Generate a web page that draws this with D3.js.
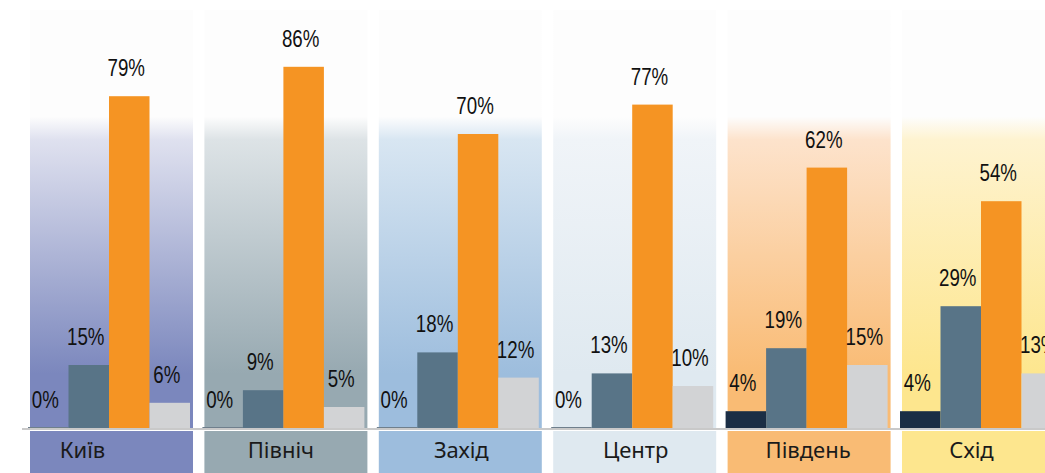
<!DOCTYPE html>
<html>
<head>
<meta charset="utf-8">
<script src="https://cdn.jsdelivr.net/npm/d3@7"></script>
<style>
  html, body { margin: 0; padding: 0; background: #ffffff; }
  svg { display: block; }
</style>
</head>
<body>
<svg id="chart" width="1045" height="473"></svg>
<script>
// ---- data ----
const categories = ["Київ", "Північ", "Захід", "Центр", "Південь", "Схід"];
const seriesKeys = ["s1", "s2", "s3", "s4"];
const s1 = [0, 0, 0, 0, 4, 4];
const s2 = [15, 9, 18, 13, 19, 29];
const s3 = [79, 86, 70, 77, 62, 54];
const s4 = [6, 5, 12, 10, 15, 13];

// ---- styles (kept apart from data) ----
const seriesColors = { s1: "#1b2e45", s2: "#587487", s3: "#f59423", s4: "#d2d3d5" };
const panelTop = ["#dfe1ef", "#dde3e6", "#d8e6f2", "#f0f4f8", "#fde3cc", "#fef3d0"];
const panelBottom = ["#7b87bd", "#97a9b1", "#9dbddd", "#dfe9f0", "#f9bb74", "#fde68e"];
const labelDx = [-29, -5, 1, 1, -1, -12];

const values = { s1, s2, s3, s4 };
const rows = categories.map((c, i) => ({ cat: c, i, vals: seriesKeys.map(k => ({ key: k, v: values[k][i] })) }));

const svg = d3.select("#chart");
const baseY = 428;

const x0 = d3.scaleBand().domain(categories).range([28, 1062]).paddingInner(12.4 / 174.4).paddingOuter(0);
const x1 = d3.scaleBand().domain(seriesKeys).range([0, x0.bandwidth()]).padding(0);
const y = d3.scaleLinear().domain([0, 100]).range([baseY, 8]);

// gradients
const defs = svg.append("defs");
categories.forEach((c, i) => {
  const g = defs.append("linearGradient").attr("id", "grad" + i)
    .attr("x1", 0).attr("y1", 0).attr("x2", 0).attr("y2", 1);
  g.append("stop").attr("offset", 0).attr("stop-color", "#fdfdfd");
  g.append("stop").attr("offset", 0.255).attr("stop-color", "#fdfdfd");
  g.append("stop").attr("offset", 0.31).attr("stop-color", panelTop[i]);
  g.append("stop").attr("offset", 0.87).attr("stop-color", panelBottom[i]);
  g.append("stop").attr("offset", 1).attr("stop-color", panelBottom[i]);
});

// panels
const panels = svg.append("g").selectAll("g").data(rows).join("g");
panels.append("rect")
  .attr("x", d => x0(d.cat) + 2)
  .attr("y", 10)
  .attr("width", x0.bandwidth() + 1)
  .attr("height", baseY - 10)
  .attr("fill", d => `url(#grad${d.i})`);
panels.append("rect")
  .attr("x", d => x0(d.cat) + 2)
  .attr("y", 431)
  .attr("width", x0.bandwidth() + 1)
  .attr("height", 473 - 431)
  .attr("fill", d => panelBottom[d.i]);

// axis baseline
svg.append("line")
  .attr("x1", 22).attr("x2", 1045)
  .attr("y1", baseY + 1).attr("y2", baseY + 1)
  .attr("stroke", "#c9c9c9").attr("stroke-width", 2);

// bars
const groups = svg.append("g").selectAll("g").data(rows).join("g")
  .attr("transform", d => `translate(${x0(d.cat)},0)`);

groups.selectAll("rect").data(d => d.vals).join("rect")
  .attr("x", d => x1(d.key))
  .attr("y", d => d.v === 0 ? baseY - 1 : y(d.v))
  .attr("width", x1.bandwidth())
  .attr("height", d => d.v === 0 ? 1 : baseY - y(d.v))
  .attr("fill", d => d.v === 0 ? "#6f7f8c" : seriesColors[d.key]);

groups.selectAll("text").data(d => d.vals).join("text")
  .attr("transform", d => `translate(${x1(d.key) + x1.bandwidth() / 2 - 3},${y(d.v) - 20}) scale(0.78,1)`)
  .attr("text-anchor", "middle")
  .attr("font-family", "'Liberation Sans', Arial, sans-serif")
  .attr("font-size", 24)
  .attr("fill", "#111")
  .text(d => d.v + "%");

// category labels
svg.append("g").selectAll("text").data(rows).join("text")
  .attr("x", d => x0(d.cat) + 2 + (x0.bandwidth() + 1) / 2 + labelDx[d.i])
  .attr("y", 458)
  .attr("text-anchor", "middle")
  .attr("font-family", "'Noto Sans', 'DejaVu Sans', sans-serif")
  .attr("font-size", 22)
  .attr("fill", "#1a1a1a")
  .text(d => d.cat);
</script>
</body>
</html>
